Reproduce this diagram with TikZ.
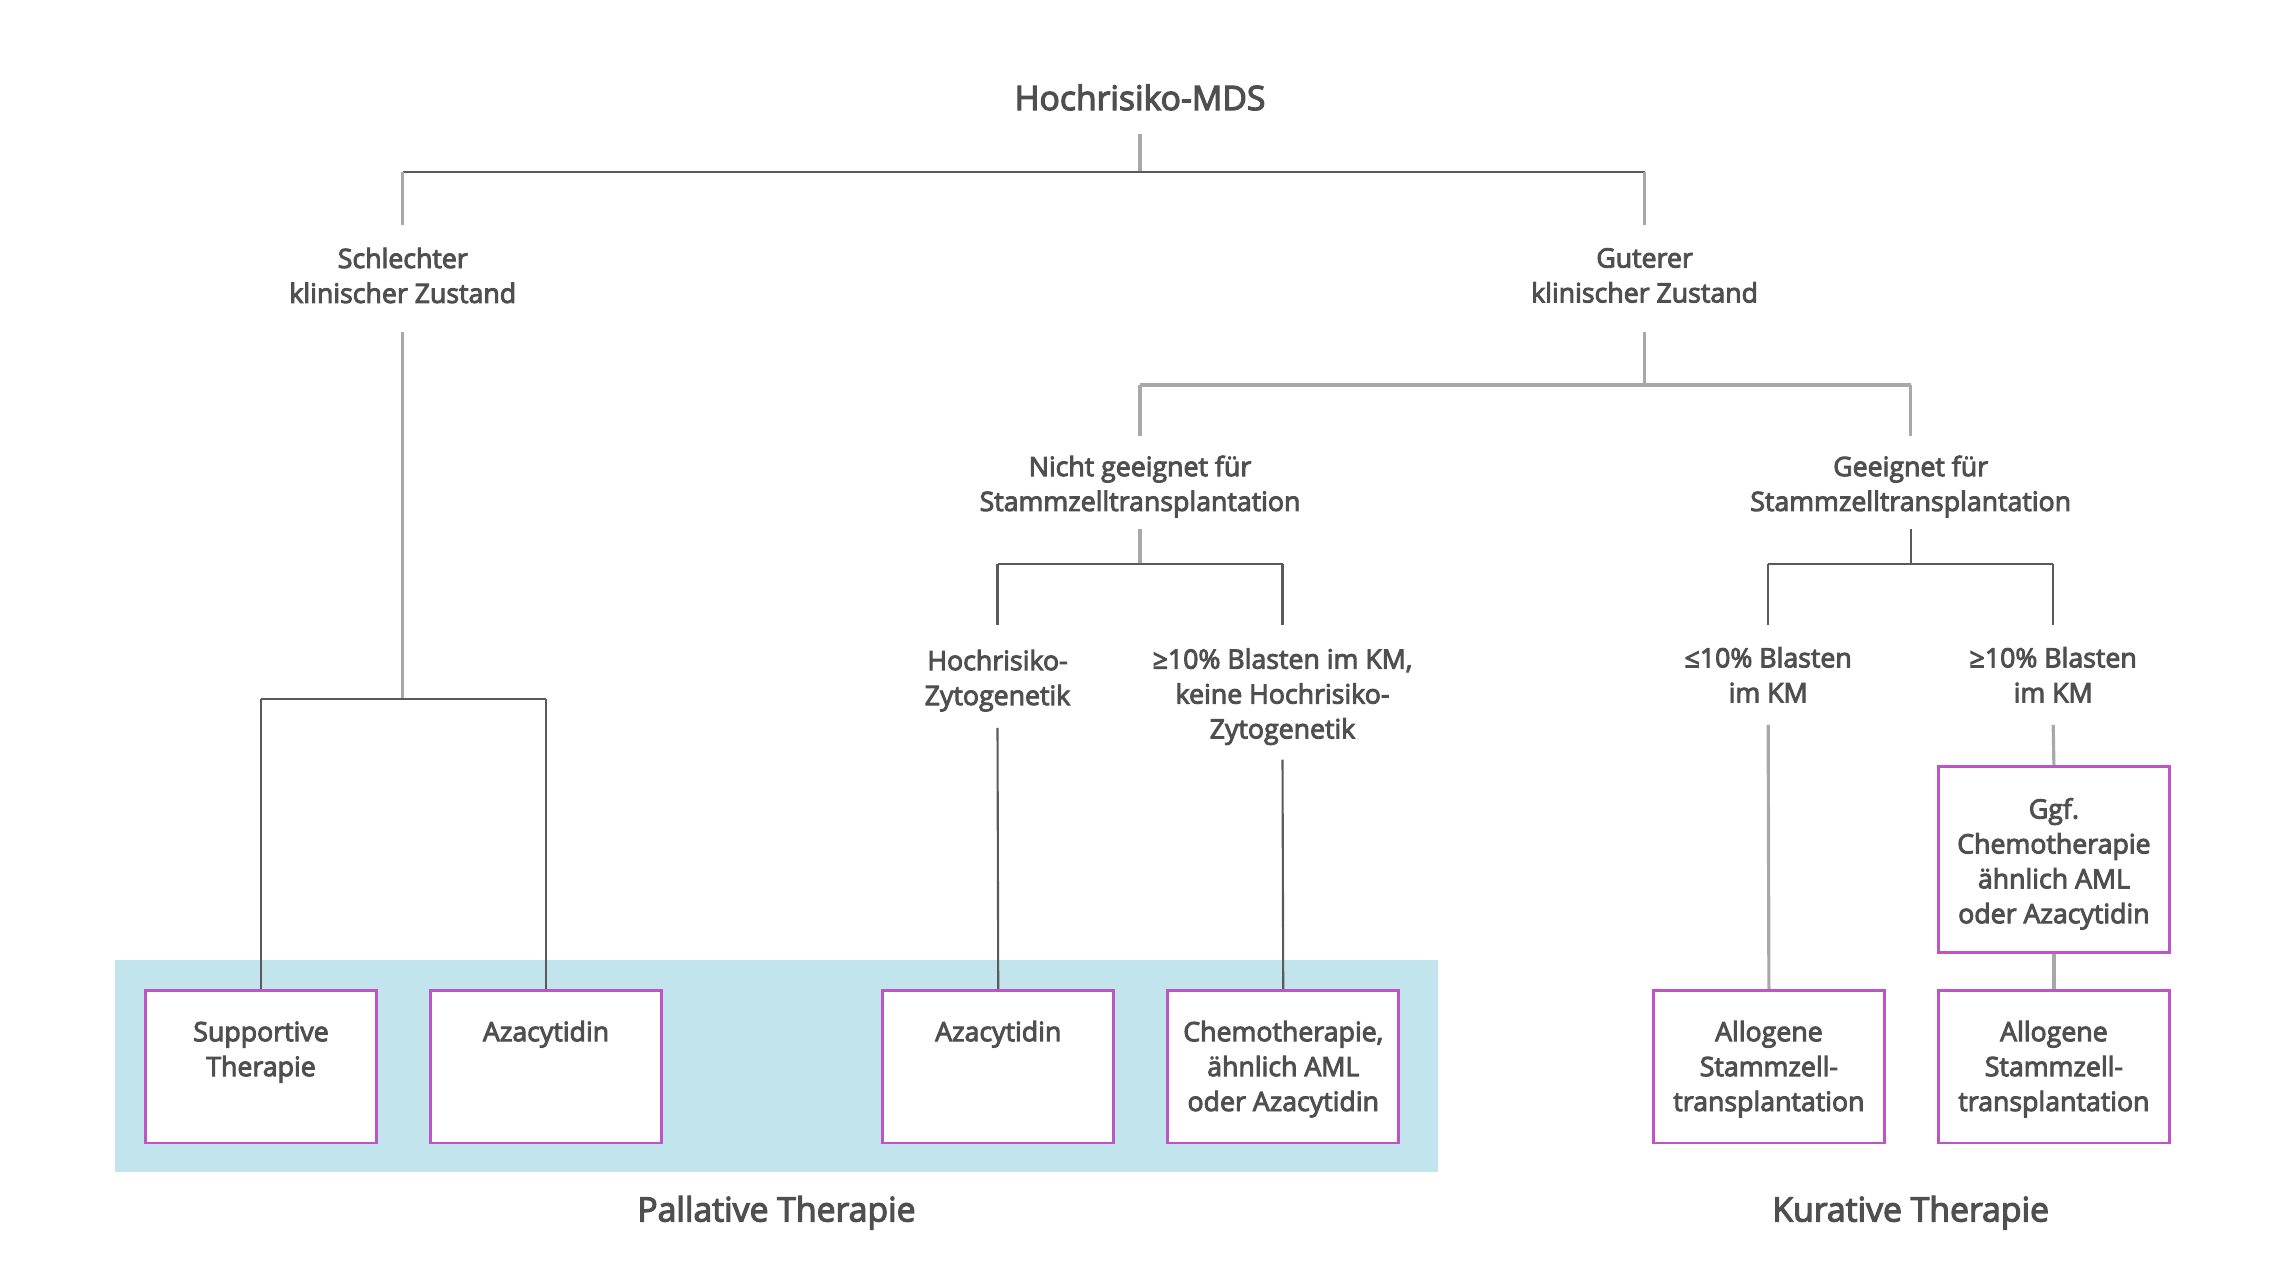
\documentclass[tikz,border=0pt]{standalone}
\usepackage{fontspec}
\setmainfont{Open Sans}[FakeBold=3.5]
\definecolor{txt}{HTML}{4F4F4F}
\definecolor{dk}{HTML}{5A5A5A}
\definecolor{lt}{HTML}{A8A8A8}
\definecolor{boxc}{HTML}{BE55C4}
\definecolor{band}{HTML}{C2E4EC}
\newcommand\tx[1]{\parbox[c][1.527cm][t]{2.25cm}{\centering\rule{0pt}{0.51cm}#1}}
\newcommand\dn[2]{\raisebox{-0.045cm}[\height][\depth]{\parbox{#1}{\centering #2}}}
\newcommand\up[2]{\raisebox{0.03cm}[\height][\depth]{\parbox{#1}{\centering #2}}}
\begin{document}
\begin{tikzpicture}[x=0.01454cm,y=-0.01454cm,
  every node/.style={text=txt, font=\fontsize{7.6}{9.93}\selectfont},
  lbl/.style={align=center, inner sep=0pt},
  title/.style={lbl, font=\fontsize{9.6}{12}\selectfont},
  btm/.style={draw=boxc, line width=0.8pt, fill=white, inner sep=0pt, minimum width=2.312cm, minimum height=1.527cm},
  mid/.style={draw=boxc, line width=0.8pt, fill=white, inner sep=0pt, align=center, minimum width=2.312cm, minimum height=1.861cm},
  dkl/.style={draw=dk, line width=0.6pt},
  ltl/.style={draw=lt, line width=0.9pt},
  foot/.style={lbl, font=\fontsize{9.6}{12}\selectfont}]
\useasboundingbox (0,0) rectangle (1568,881.7);
\fill[band] (79,660) rectangle (989,806);

% labels
\node[title, minimum height=0.727cm] (root) at (784,67) {Hochrisiko-MDS};
\node[lbl, minimum height=1.061cm] (bad) at (277,191.5) {\up{3cm}{Schlechter\\klinischer Zustand}};
\node[lbl, minimum height=1.061cm] (good) at (1131,191.5) {\up{3cm}{Guterer\\klinischer Zustand}};
\node[lbl, minimum height=0.916cm] (nsz) at (784,331.5) {\dn{4cm}{Nicht geeignet für\\Stammzelltransplantation}};
\node[lbl, minimum height=0.916cm] (sz) at (1314,331.5) {\dn{4cm}{Geeignet für\\Stammzelltransplantation}};
\node[lbl, minimum height=1.018cm] (hz) at (686,465) {\dn{3cm}{Hochrisiko-\\Zytogenetik}};
\node[lbl, minimum height=1.338cm] (bk) at (882,476) {\dn{3cm}{≥10\% Blasten im KM,\\keine Hochrisiko-\\Zytogenetik}};
\node[lbl, minimum height=0.989cm] (lo) at (1216,464) {≤10\% Blasten\\im KM};
\node[lbl, minimum height=0.989cm] (hi) at (1412,464) {≥10\% Blasten\\im KM};

% boxes
\node[btm] (b1) at (179.5,733.5) {\tx{Supportive\\Therapie}};
\node[btm] (b2) at (375.5,733.5) {\tx{Azacytidin}};
\node[btm] (b3) at (686.5,733.5) {\tx{Azacytidin}};
\node[btm] (b4) at (882.5,733.5) {\tx{Chemotherapie,\\ähnlich AML\\oder Azacytidin}};
\node[btm] (b5) at (1216.5,733.5) {\tx{Allogene\\Stammzell-\\transplantation}};
\node[btm] (b6) at (1412.5,733.5) {\tx{Allogene\\Stammzell-\\transplantation}};
\node[mid] (ggf) at (1412.5,591) {\dn{2.3cm}{Ggf.\\Chemotherapie\\ähnlich AML\\oder Azacytidin}};

\node[foot] (pal) at (534,834) {Pallative Therapie};
\node[foot] (kur) at (1314,834) {Kurative Therapie};

% junctions
\coordinate (j0) at (784,118);
\coordinate (j1) at (277,481);
\coordinate (j2) at (1131,265);
\coordinate (j3) at (784,388);
\coordinate (j4) at (1314,388);

% connectors
\draw[ltl] (root.south) -- (j0);
\draw[dkl] (bad.north |- j0) -- (good.north |- j0);
\draw[ltl] (bad.north |- j0) -- (bad.north);
\draw[ltl] (good.north |- j0) -- (good.north);

\draw[ltl] (bad.south) -- (j1);
\draw[dkl] (b1.north |- j1) -- (b2.north |- j1);
\draw[dkl] (b1.north |- j1) -- (b1.north);
\draw[dkl] (b2.north |- j1) -- (b2.north);

\draw[ltl] (good.south) -- (j2);
\draw[ltl, line width=1.2pt] (nsz.north |- j2) -- (sz.north |- j2);
\draw[ltl] (nsz.north |- j2) -- (nsz.north);
\draw[ltl] (sz.north |- j2) -- (sz.north);

\draw[ltl] (nsz.south) -- (j3);
\draw[dkl] (hz.north |- j3) -- (bk.north |- j3);
\draw[dkl] (hz.north |- j3) -- (hz.north);
\draw[dkl] (bk.north |- j3) -- (bk.north);
\draw[dkl] (hz.south) -- (b3.north);
\draw[dkl] (bk.south) -- (b4.north);

\draw[dkl] (sz.south) -- (j4);
\draw[dkl] (lo.north |- j4) -- (hi.north |- j4);
\draw[dkl] (lo.north |- j4) -- (lo.north);
\draw[dkl] (hi.north |- j4) -- (hi.north);
\draw[ltl] (lo.south) -- (b5.north);
\draw[ltl] (hi.south) -- (ggf.north);
\draw[ltl] (ggf.south) -- (b6.north);
\end{tikzpicture}
\end{document}
